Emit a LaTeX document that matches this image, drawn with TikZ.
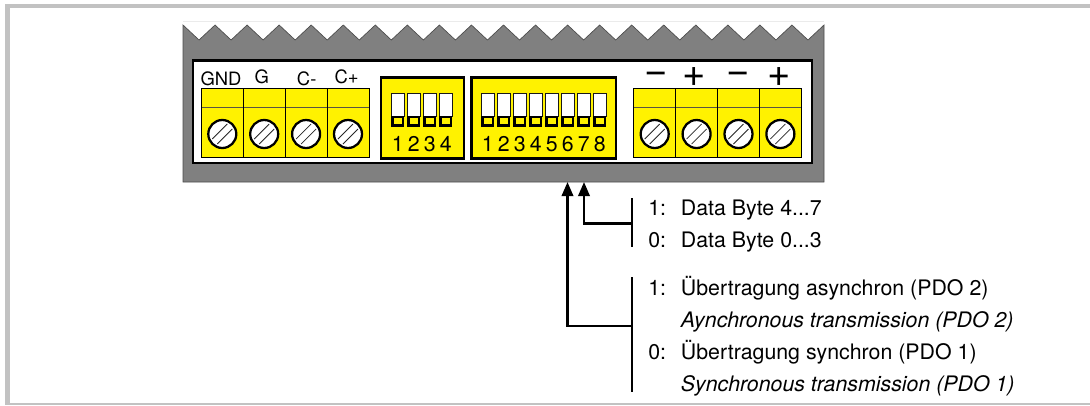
\documentclass[tikz,border=0pt]{standalone}
\usepackage{fontspec}
\setmainfont{TeX Gyre Heros}
\usetikzlibrary{arrows.meta}
\tikzset{
  x=0.75pt,y=-0.75pt,
  frameline/.style={fill=black!24,draw=none},
  housing/.style={fill=black!50,draw=black!70,line width=0.5pt},
  panel/.style={fill=white,draw=black,line width=1.8pt},
  termcell/.style={fill=yellow,draw=black!75!yellow,line width=0.7pt},
  termout/.style={draw=black,line width=0.6pt},
  screwhead/.style={circle,fill=white,draw=black,line width=1.7pt,minimum size=21pt,inner sep=0pt},
  slot/.style={draw=black!85,line width=0.6pt},
  dipbox/.style={fill=yellow,draw=black,line width=1.8pt},
  toplabel/.style={inner sep=0pt,anchor=base,font=\fontsize{13.8}{13.8}\selectfont},
  minuslabel/.style={inner sep=0pt,font=\fontsize{30}{30}\selectfont},
  diplabel/.style={inner sep=0pt,anchor=base,font=\fontsize{16}{16}\selectfont},
  desc/.style={inner sep=0pt,anchor=base west,font=\fontsize{16}{16}\selectfont},
  wire/.style={draw=black,line width=1.8pt},
  arrowwire/.style={wire,-{Triangle[length=10.5pt,width=8.5pt]}},
}
\newcommand{\termblock}[2]{% left x, prefix
  \foreach \i in {0,1,2,3}{
    \pgfmathsetmacro{\xa}{#1+41.9*\i}
    \pgfmathsetmacro{\xb}{#1+41.9*\i+41.9}
    \pgfmathsetmacro{\xc}{#1+41.9*\i+21}
    \fill[termcell,draw=none] (\xa,88) rectangle (\xb,157);
    \draw[termcell,fill=none] (\xa,107.5) -- (\xb,107.5);
    \draw[termout] (\xa,88) rectangle (\xb,157);
    \node[screwhead] (#2\i) at (\xc,134) {};
    \draw[slot] (\xc-10,134+5) -- (\xc+5,134-10);
    \draw[slot] (\xc-5,134+10) -- (\xc+10,134-5);
  }
}
\newcommand{\dipswitches}[3]{% left x, count, prefix
  \foreach \i in {1,...,#2}{
    \pgfmathsetmacro{\xa}{#1+16*(\i-1)}
    \fill[white] (\xa,93.3) rectangle (\xa+13,116);
    \draw[black!90,line width=0.5pt] (\xa,93.3) rectangle (\xa+13,116);
    \fill[black] (\xa,115.7) rectangle (\xa+13,127.3);
    \fill[yellow] (\xa+3,118.2) rectangle (\xa+10.3,124);
    \node[diplabel] (#3\i) at (\xa+6.5,151.5) {\i};
  }
}
\begin{document}
\begin{tikzpicture}
\useasboundingbox (0,0) rectangle (1090,405);
% page frame
\fill[frameline] (5,4) rectangle (1090,8.3);
\fill[frameline] (5,4) rectangle (10,405);
\fill[frameline] (5,402.6) rectangle (1090,405);
% housing with toothed upper edge
\draw[black!8,line width=0.5pt] (183,21.5) -- (824,21.5);
\filldraw[housing] (183,182) -- (183,25)
  \foreach \k in {0,...,19}{ -- ({183+32.05*\k+16.025},40) -- ({183+32.05*(\k+1)},25) }
  -- (824,182) -- cycle;
% panel
\draw[panel] (193,60.5) rectangle (812,162.8);
% terminals
\termblock{201.3}{L}
\termblock{633.7}{R}
\node[toplabel] (gnd) at (221,85) {GND};
\node[toplabel] (g) at (261.7,83.3) {G};
\node[toplabel] (cm) at (306.7,85) {C-};
\node[toplabel] (cp) at (346.7,83.3) {C+};
\node[minuslabel] (s1) at (655.8,77.5) {−};
\node[minuslabel] (s2) at (694.5,77) {+};
\node[minuslabel] (s3) at (738.5,77.5) {−};
\node[minuslabel] (s4) at (779,77) {+};
% dip switches
\draw[dipbox] (381,77.5) rectangle (463.7,158.3);
\dipswitches{391.3}{4}{A}
\draw[dipbox] (471.5,77.5) rectangle (616,158.3);
\dipswitches{481.3}{8}{B}
% selector brackets
\coordinate (b1t) at (631.7,198);
\coordinate (b1b) at (631.7,246.7);
\coordinate (b1m) at (631.7,223.3);
\coordinate (b2t) at (631.7,277.3);
\coordinate (b2b) at (631.7,391.7);
\coordinate (b2m) at (631.7,325.7);
\coordinate (h1) at (584,182);
\coordinate (h2) at (567.5,182);
\draw[wire] (b1t) -- (b1b);
\draw[wire] (b2t) -- (b2b);
\draw[arrowwire] (b1m) -| (h1);
\draw[arrowwire] (b2m) -| (h2);
% descriptions
\node[desc] (k1) at (648,215) {1:};
\node[desc] (t1) at (680.7,215) {Data Byte 4...7};
\node[desc] (k2) at (648,247) {0:};
\node[desc] (t2) at (680.7,247) {Data Byte 0...3};
\node[desc] (k3) at (648,295) {1:};
\node[desc] (t3) at (680.7,295) {Übertragung asynchron (PDO 2)};
\node[desc] (t4) at (680.7,327) {\itshape Aynchronous transmission (PDO 2)};
\node[desc] (k4) at (648,359) {0:};
\node[desc] (t5) at (680.7,359) {Übertragung synchron (PDO 1)};
\node[desc] (t6) at (680.7,391) {\itshape Synchronous transmission (PDO 1)};
\end{tikzpicture}
\end{document}
